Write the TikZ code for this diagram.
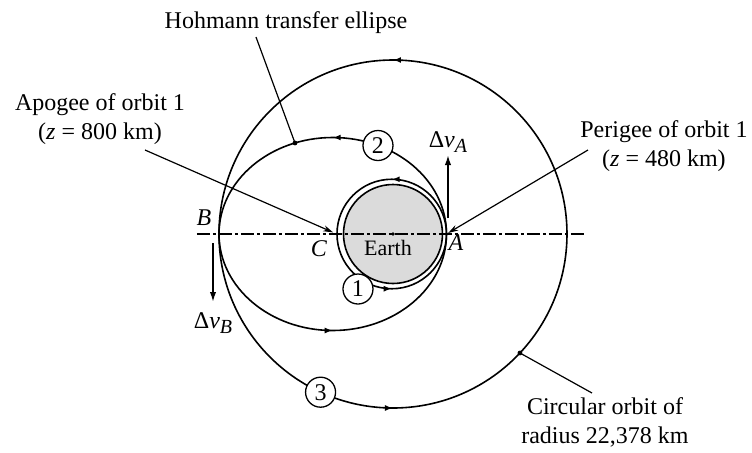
\documentclass[tikz,border=0pt]{standalone}
\usepackage{fontspec}
\setmainfont{Liberation Serif}
\usetikzlibrary{arrows.meta,decorations.markings}

\begin{document}
\begin{tikzpicture}[x=0.5pt, y=0.5pt,
  orb/.style={line width=0.8pt},
  txt/.style={font=\fontsize{12}{14.5}\selectfont, align=center, inner sep=1pt},
  let/.style={font=\fontsize{12}{14}\selectfont\itshape, inner sep=1pt},
  num/.style={draw, circle, fill=white, line width=0.65pt, inner sep=0pt, minimum size=15pt, font=\fontsize{12}{14}\selectfont},
  lead/.style={line width=0.6pt},
  ptr/.style={-{Stealth[length=5pt,width=3pt]}, line width=0.6pt},
  vec/.style={-{Latex[length=5pt,width=3.2pt]}, line width=0.85pt},
  flow/.style={postaction={decorate}, decoration={markings,
    mark=at position 0.25 with {\arrow{Latex[length=4pt,width=3pt]}},
    mark=at position 0.75 with {\arrow{Latex[length=4pt,width=3pt]}}}}
]
\useasboundingbox (-393,-218) rectangle (359,234);
% Earth, orbits 1 and 3, transfer ellipse
\fill[black!14] (0,0) circle[radius=49.5];
\draw[orb] (0,0) circle[radius=49.5];
\draw[orb, flow] (-1.25,0) ellipse[x radius=54.75, y radius=54.75];
\draw[orb, flow] (-60.25,0) ellipse[x radius=113.75, y radius=96.5];
\draw[orb, flow] (0,0) circle[radius=174];
\fill (0,0) circle[radius=0.9pt];
\coordinate (axL) at (-196,0);
\coordinate (axR) at (192,0);
\draw[line width=1pt, dash pattern=on 6.5pt off 1.5pt on 1.5pt off 1.5pt] (axL) -- (axR);

\coordinate (A) at (53.5,0);
\coordinate (B) at (-174,0);
\coordinate (C) at (-56.25,0);
\node[let] (lB) at (-189,16) {B};
\node[let] (lC) at (-74,-15) {C};
\node[let] (lA) at (63,-9) {A};
\node[txt, font=\fontsize{11}{13}\selectfont] (earth) at (-5,-14) {Earth};

% orbit numbers
\node[num] (n1) at (-35,-55) {1};
\node[num] (n2) at (-15,88.5) {2};
\node[num] (n3) at (245.4:174) {3};

% velocity changes
\coordinate (dvA0) at (55,16);
\coordinate (dvA1) at (55,79);
\draw[vec] (dvA0) -- (dvA1);
\node[txt, anchor=south] (dvA) at (dvA1) {Δ\textit{v}\raisebox{-0.45ex}{\fontsize{10}{10}\selectfont\textit{A}}};
\coordinate (dvB0) at (-180,-9);
\coordinate (dvB1) at (-180,-68);
\draw[vec] (dvB0) -- (dvB1);
\node[txt] (dvB) at (-180,-89) {Δ\textit{v}\raisebox{-0.45ex}{\fontsize{10}{10}\selectfont\textit{B}}};

% callouts
\node[txt] (hoh) at (-107,211) {Hohmann transfer ellipse};
\node[txt] (apo) at (-293,115) {Apogee of orbit 1\\(\textit{z} = 800 km)};
\node[txt] (per) at (271,88) {Perigee of orbit 1\\(\textit{z} = 480 km)};
\node[txt] (cir) at (212,-188) {Circular orbit of\\radius 22,378 km};

\coordinate (hohS) at (-137,197);
\coordinate (hohE) at (-98,91);
\draw[lead] (hohS) -- (hohE);
\fill (hohE) circle[radius=1.2pt];
\coordinate (apoS) at (-248,84);
\draw[ptr, shorten >=2pt] (apoS) -- (C);
\coordinate (perS) at (195,84);
\draw[ptr, shorten >=1pt] (perS) -- (A);
\coordinate (cirS) at (199,-159);
\coordinate (cirE) at (-43.15:174);
\draw[lead] (cirS) -- (cirE);
\fill (cirE) circle[radius=1.2pt];
\end{tikzpicture}
\end{document}
